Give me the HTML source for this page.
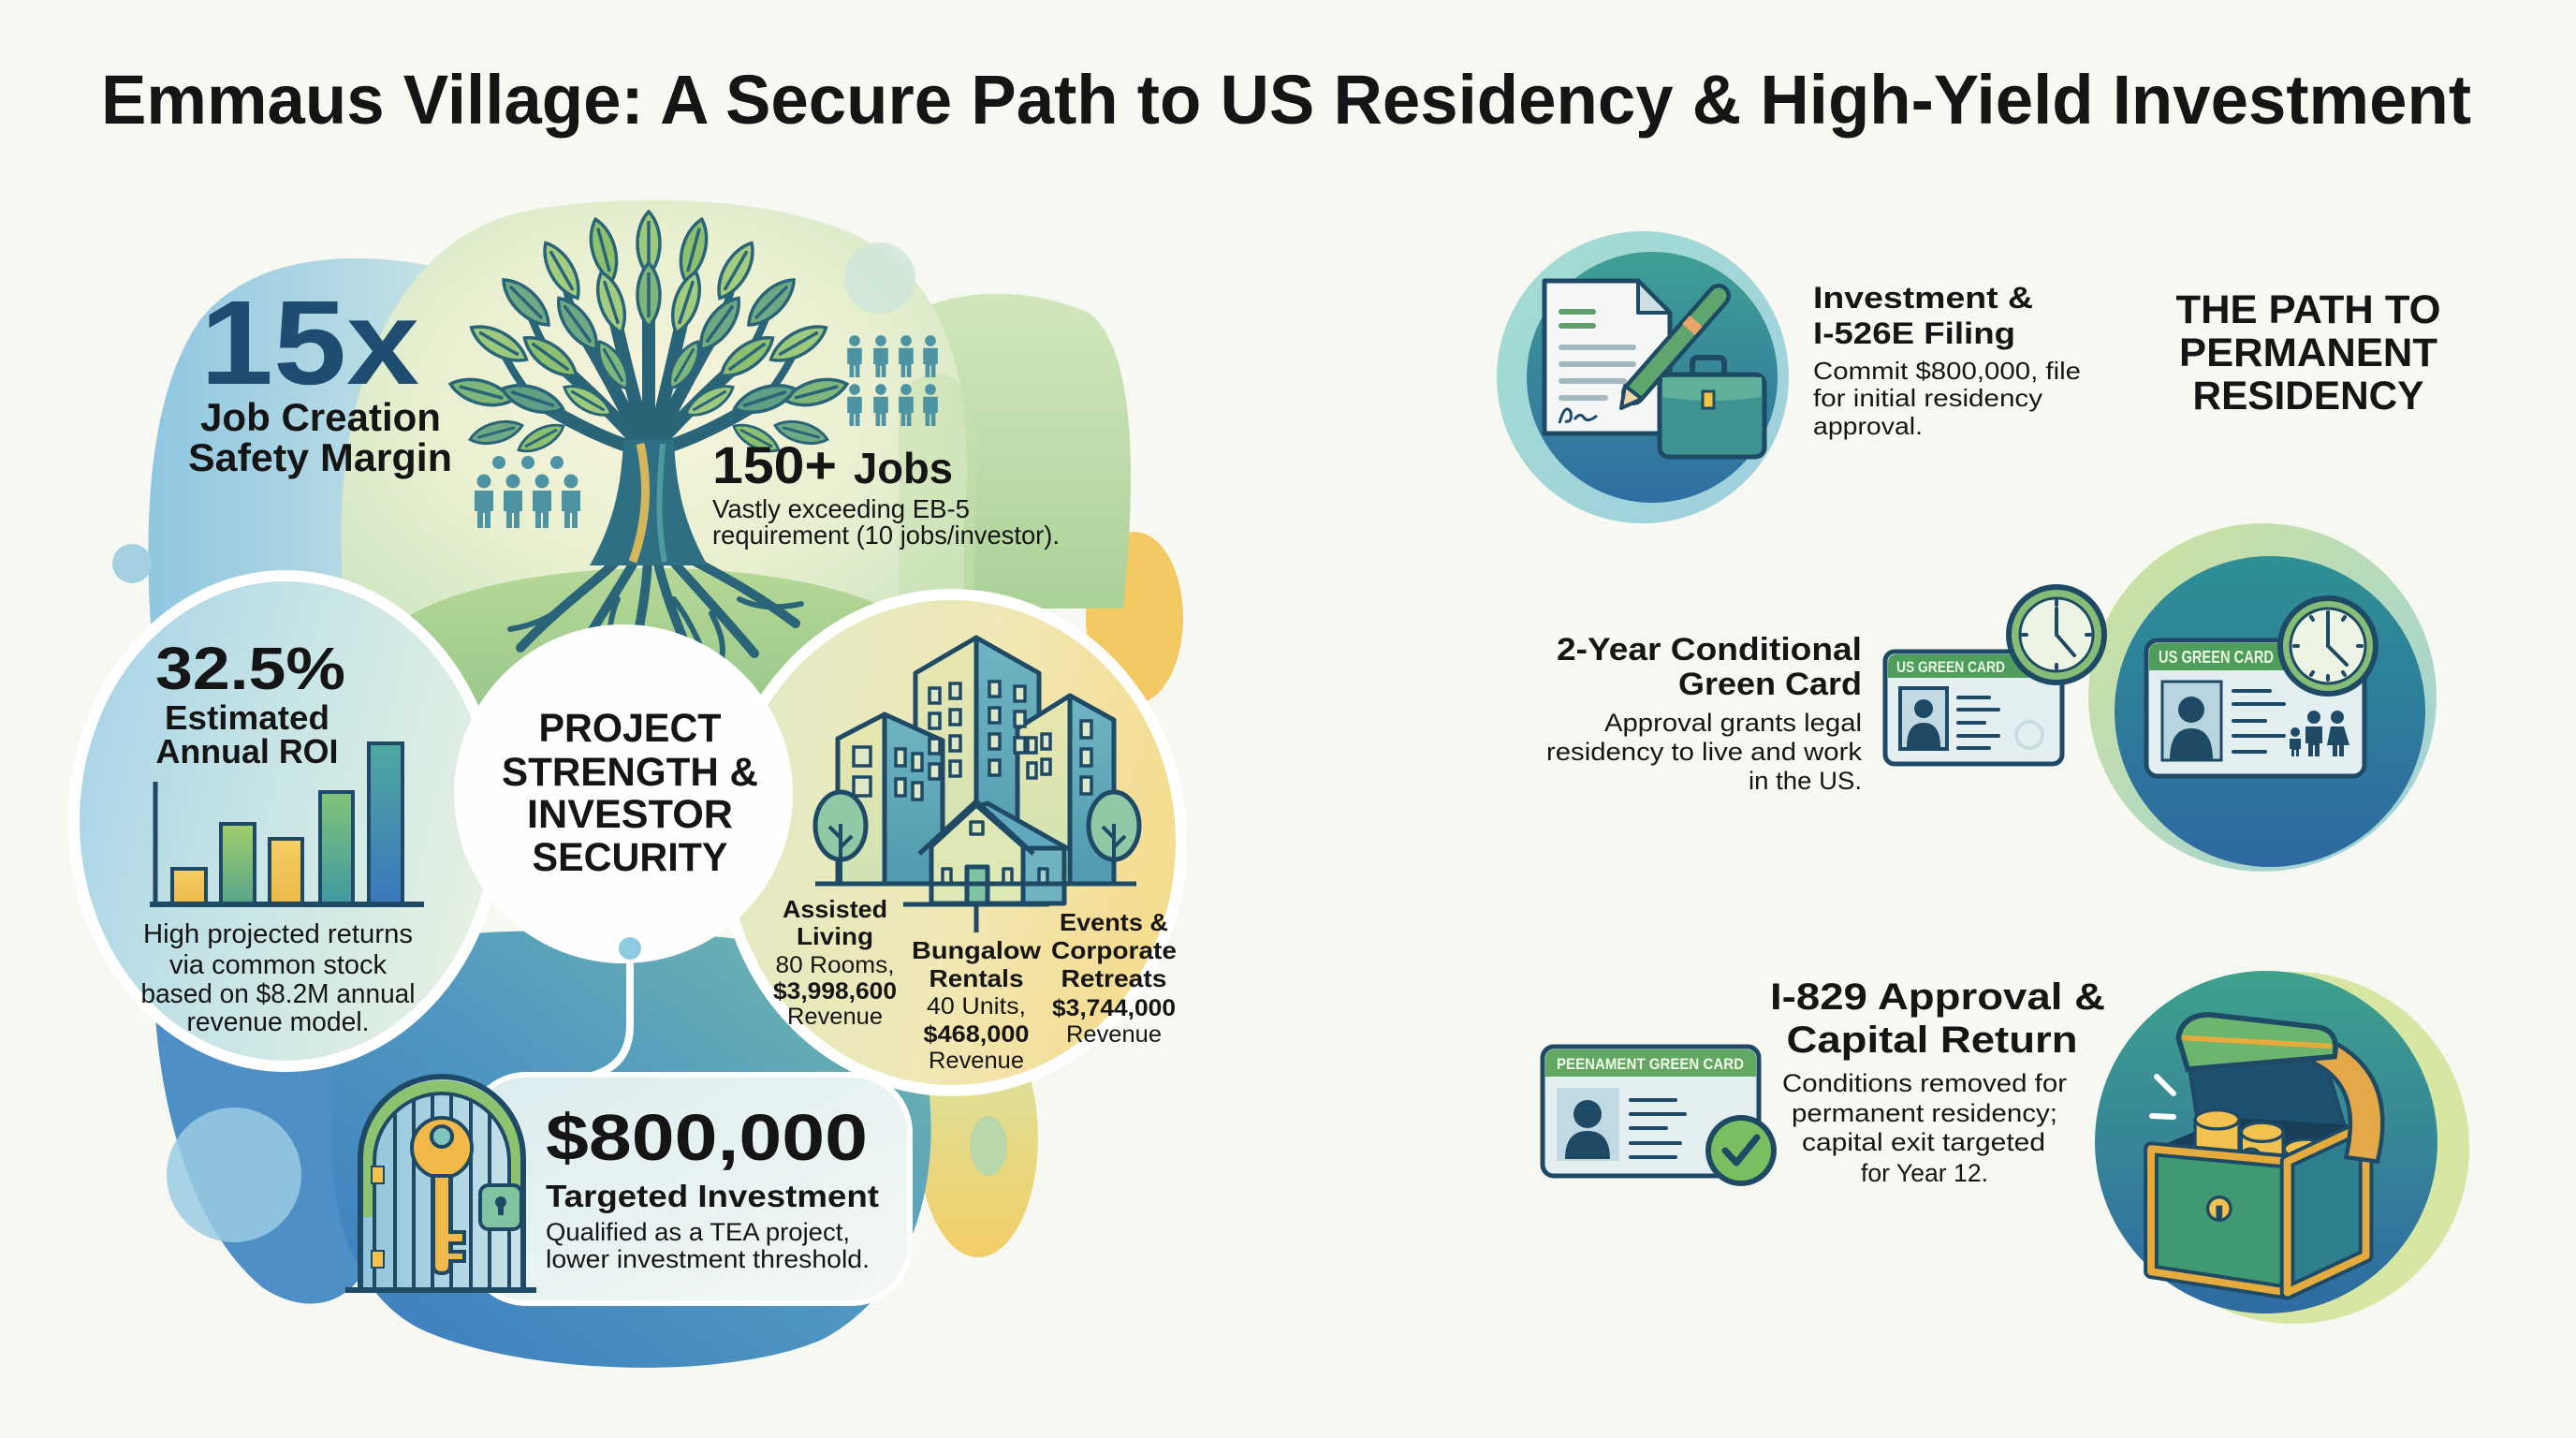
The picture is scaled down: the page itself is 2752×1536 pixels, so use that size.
<!DOCTYPE html>
<html><head><meta charset="utf-8">
<style>
html,body{margin:0;padding:0;background:#f8f8f3;}
svg{display:block}
.b{font-family:"Liberation Sans",sans-serif;font-weight:700;fill:#151515}
.r{font-family:"Liberation Sans",sans-serif;font-weight:400;fill:#151515}
</style></head><body>
<svg xmlns="http://www.w3.org/2000/svg" xmlns:xlink="http://www.w3.org/1999/xlink" width="2752" height="1536" viewBox="0 0 2752 1536">
<defs>
<linearGradient id="gBlue" x1="0" y1="0" x2="1" y2="0"><stop offset="0" stop-color="#8fc6e1"/><stop offset="1" stop-color="#d2e9e6"/></linearGradient>
<radialGradient id="gTree" cx="0.5" cy="0.45" r="0.6"><stop offset="0" stop-color="#f6f4dc"/><stop offset="0.6" stop-color="#e9f0d1"/><stop offset="1" stop-color="#d3e7c6"/></radialGradient>
<linearGradient id="gGreen" x1="0" y1="0" x2="0" y2="1"><stop offset="0" stop-color="#d2e6bd"/><stop offset="1" stop-color="#abd197"/></linearGradient>
<linearGradient id="gLeft" x1="0" y1="0.2" x2="1" y2="0.5"><stop offset="0" stop-color="#a6d3e7"/><stop offset="0.5" stop-color="#c9e5e6"/><stop offset="1" stop-color="#e4f0e2"/></linearGradient>
<linearGradient id="gRight" x1="0" y1="0" x2="1" y2="0.2"><stop offset="0" stop-color="#e0eac8"/><stop offset="0.6" stop-color="#f0e8b5"/><stop offset="1" stop-color="#f5dd92"/></linearGradient>
<linearGradient id="gBottom" x1="0" y1="1" x2="1" y2="0"><stop offset="0" stop-color="#3a7dbf"/><stop offset="0.5" stop-color="#4f97c1"/><stop offset="1" stop-color="#74bcab"/></linearGradient>
<linearGradient id="gCard" x1="0" y1="0" x2="1" y2="1"><stop offset="0" stop-color="#dcecef"/><stop offset="1" stop-color="#f4f8f5"/></linearGradient>
<linearGradient id="gHill" x1="0" y1="0" x2="0" y2="1"><stop offset="0" stop-color="#b5d796"/><stop offset="1" stop-color="#93c488"/></linearGradient>
<linearGradient id="gYelLow" x1="0" y1="0" x2="0" y2="1"><stop offset="0" stop-color="#d8e6a8"/><stop offset="1" stop-color="#f2cd66"/></linearGradient>
<linearGradient id="gC1o" x1="0" y1="0" x2="1" y2="1"><stop offset="0" stop-color="#a4dcd0"/><stop offset="1" stop-color="#9fd0e0"/></linearGradient>
<linearGradient id="gC1" x1="0" y1="0" x2="0" y2="1"><stop offset="0" stop-color="#3f9f94"/><stop offset="1" stop-color="#2f6ea3"/></linearGradient>
<linearGradient id="gC2o" x1="0" y1="0" x2="1" y2="1"><stop offset="0" stop-color="#d2e49a"/><stop offset="1" stop-color="#9ad0df"/></linearGradient>
<linearGradient id="gC2" x1="0" y1="0" x2="0" y2="1"><stop offset="0" stop-color="#2f9096"/><stop offset="1" stop-color="#2d69a1"/></linearGradient>
<linearGradient id="gC3" x1="0" y1="0" x2="0" y2="1"><stop offset="0" stop-color="#3fa18c"/><stop offset="1" stop-color="#2d6aa3"/></linearGradient>
<linearGradient id="gBar2" x1="0" y1="0" x2="0" y2="1"><stop offset="0" stop-color="#a3cf6c"/><stop offset="1" stop-color="#58a48b"/></linearGradient>
<linearGradient id="gBar4" x1="0" y1="0" x2="0" y2="1"><stop offset="0" stop-color="#82c477"/><stop offset="1" stop-color="#3e99a2"/></linearGradient>
<linearGradient id="gBar5" x1="0" y1="0" x2="0" y2="1"><stop offset="0" stop-color="#4fa9a0"/><stop offset="1" stop-color="#3a76bd"/></linearGradient>
<linearGradient id="gBarY" x1="0" y1="0" x2="0" y2="1"><stop offset="0" stop-color="#f5cf63"/><stop offset="1" stop-color="#ebb84a"/></linearGradient>
<linearGradient id="gBldL" x1="0" y1="0" x2="0" y2="1"><stop offset="0" stop-color="#e9e6b0"/><stop offset="1" stop-color="#cfe3b2"/></linearGradient>
<linearGradient id="gBldR" x1="0" y1="0" x2="0" y2="1"><stop offset="0" stop-color="#6fb4c2"/><stop offset="1" stop-color="#4f9ab0"/></linearGradient>
<linearGradient id="gDoor" x1="0" y1="0" x2="1" y2="0"><stop offset="0" stop-color="#8fc4dd"/><stop offset="1" stop-color="#c9e3ea"/></linearGradient>
<path id="leaf" d="M0,-34 C16,-17 16,17 0,34 C-16,17 -16,-17 0,-34 Z M0,-24 V24"/>
<g id="pp"><circle cx="0" cy="0" r="7.5"/><path d="M-10,10 h20 v22 h-3 v18 h-6 v-16 h-2 v16 h-6 v-18 h-3 z"/></g>
</defs>

<rect width="2752" height="1536" fill="#f8f8f3"/>

<text class="b" x="108" y="132" font-size="74" textLength="2532" lengthAdjust="spacingAndGlyphs">Emmaus Village: A Secure Path to US Residency &amp; High-Yield Investment</text>

<!-- ============ LEFT CLUSTER ============ -->
<path d="M165,720 C150,560 158,420 215,340 C262,284 340,270 420,278 C480,284 520,300 545,330 L545,720 Z" fill="url(#gBlue)"/>
<ellipse cx="1212" cy="660" rx="52" ry="92" fill="#f2c962"/>
<path d="M960,345 C1010,305 1100,305 1165,335 C1212,375 1215,500 1200,650 L980,650 Z" fill="url(#gGreen)"/>
<path d="M365,600 C358,420 420,255 560,226 C640,210 780,206 880,238 C1000,275 1045,380 1030,560 L1030,700 L365,700 Z" fill="url(#gTree)"/>
<path d="M960,420 C1000,380 1040,400 1045,460 L1040,650 L960,650 Z" fill="#c6e0ae" opacity="0.55"/>
<circle cx="940" cy="297" r="38" fill="#cfe6d8" opacity="0.9"/>
<circle cx="141" cy="602" r="21" fill="#a3d1e2"/>
<ellipse cx="700" cy="705" rx="300" ry="98" fill="url(#gHill)"/>

<!-- tree -->
<g fill="none" stroke="#2a6478" stroke-linecap="round">
 <g stroke-width="10">
  <path d="M668,590 C640,620 600,645 556,692"/>
  <path d="M680,596 C660,630 638,664 614,704"/>
  <path d="M692,598 C690,640 682,672 676,710"/>
  <path d="M702,598 C712,640 726,672 740,708"/>
  <path d="M714,594 C744,628 774,660 806,698"/>
  <path d="M724,590 C762,610 802,630 850,666"/>
 </g>
 <g stroke-width="6">
  <path d="M600,650 C585,660 570,668 545,672"/>
  <path d="M640,660 C630,680 620,690 598,702"/>
  <path d="M760,655 C770,675 775,690 770,708"/>
  <path d="M790,640 C810,650 832,650 856,645"/>
  <path d="M660,640 C650,660 652,685 645,708"/>
  <path d="M720,640 C735,660 745,680 754,704"/>
 </g>
 <g stroke-width="14">
  <path d="M690,482 Q640,470 569,426"/>
  <path d="M690,482 Q645,430 588,381"/>
  <path d="M690,482 Q655,410 617,346"/>
  <path d="M693,482 Q670,400 653,323"/>
  <path d="M693,482 Q693,400 693,315"/>
  <path d="M696,482 Q716,400 733,323"/>
  <path d="M696,482 Q731,410 769,346"/>
  <path d="M696,482 Q741,430 798,381"/>
  <path d="M696,482 Q746,470 817,426"/>
 </g>
 <g stroke-width="8">
  <path d="M569,426 Q540,422 514,419"/><path d="M569,426 Q545,395 533,367"/>
  <path d="M588,381 Q570,350 562,323"/><path d="M617,346 Q605,315 600,289"/>
  <path d="M653,323 Q648,290 645,267"/><path d="M693,315 Q693,290 693,260"/>
  <path d="M733,323 Q738,290 741,267"/><path d="M769,346 Q781,315 786,289"/>
  <path d="M798,381 Q816,350 824,323"/><path d="M817,426 Q841,395 853,367"/>
  <path d="M817,426 Q846,422 872,419"/>
 </g>
</g>
<path d="M630,604 C655,560 664,520 666,470 L720,470 C722,520 731,560 756,604 Z" fill="#2f6f84"/>
<path d="M676,600 C690,560 694,520 684,474" stroke="#d6b65c" stroke-width="9" fill="none"/>
<path d="M710,600 C702,560 704,520 708,474" stroke="#4f9aa0" stroke-width="6" fill="none"/>
<g stroke="#2a6478" stroke-width="3.5">
 <use xlink:href="#leaf" transform="translate(514,419) rotate(-75)" fill="#7fb77a"/>
 <use xlink:href="#leaf" transform="translate(533,367) rotate(-60)" fill="#9cc97c"/>
 <use xlink:href="#leaf" transform="translate(562,323) rotate(-45)" fill="#6fa983"/>
 <use xlink:href="#leaf" transform="translate(600,289) rotate(-30)" fill="#a3cc7e"/>
 <use xlink:href="#leaf" transform="translate(645,267) rotate(-15)" fill="#8cbf6e"/>
 <use xlink:href="#leaf" transform="translate(693,260) rotate(0)" fill="#9cc97c"/>
 <use xlink:href="#leaf" transform="translate(741,267) rotate(15)" fill="#8cbf6e"/>
 <use xlink:href="#leaf" transform="translate(786,289) rotate(30)" fill="#a3cc7e"/>
 <use xlink:href="#leaf" transform="translate(824,323) rotate(45)" fill="#6fa983"/>
 <use xlink:href="#leaf" transform="translate(853,367) rotate(60)" fill="#9cc97c"/>
 <use xlink:href="#leaf" transform="translate(872,419) rotate(75)" fill="#7fb77a"/>
 <use xlink:href="#leaf" transform="translate(569,426) rotate(-72)" fill="#5e9f86"/>
 <use xlink:href="#leaf" transform="translate(588,381) rotate(-54)" fill="#8cbf6e"/>
 <use xlink:href="#leaf" transform="translate(617,346) rotate(-36)" fill="#6fa983"/>
 <use xlink:href="#leaf" transform="translate(653,323) rotate(-18)" fill="#a3cc7e"/>
 <use xlink:href="#leaf" transform="translate(693,315) rotate(0)" fill="#7fb77a"/>
 <use xlink:href="#leaf" transform="translate(733,323) rotate(18)" fill="#a3cc7e"/>
 <use xlink:href="#leaf" transform="translate(769,346) rotate(36)" fill="#6fa983"/>
 <use xlink:href="#leaf" transform="translate(798,381) rotate(54)" fill="#8cbf6e"/>
 <use xlink:href="#leaf" transform="translate(817,426) rotate(72)" fill="#5e9f86"/>
 <use xlink:href="#leaf" transform="translate(628,428) rotate(-60) scale(0.85)" fill="#9cc97c"/>
 <use xlink:href="#leaf" transform="translate(655,390) rotate(-30) scale(0.85)" fill="#7fb77a"/>
 <use xlink:href="#leaf" transform="translate(731,390) rotate(30) scale(0.85)" fill="#7fb77a"/>
 <use xlink:href="#leaf" transform="translate(758,428) rotate(60) scale(0.85)" fill="#9cc97c"/>
 <use xlink:href="#leaf" transform="translate(530,462) rotate(-105) scale(0.85)" fill="#6fa983"/>
 <use xlink:href="#leaf" transform="translate(856,462) rotate(105) scale(0.85)" fill="#6fa983"/>
 <use xlink:href="#leaf" transform="translate(578,468) rotate(-118) scale(0.8)" fill="#8cbf6e"/>
 <use xlink:href="#leaf" transform="translate(808,468) rotate(118) scale(0.8)" fill="#8cbf6e"/>
</g>

<g fill="#4e93a3">
 <circle cx="533" cy="494" r="7"/><circle cx="564" cy="494" r="7"/><circle cx="595" cy="494" r="7"/>
 <use xlink:href="#pp" x="517" y="514"/><use xlink:href="#pp" x="548" y="514"/><use xlink:href="#pp" x="579" y="514"/><use xlink:href="#pp" x="610" y="514"/>
 <use xlink:href="#pp" transform="translate(913,364) scale(0.78)"/><use xlink:href="#pp" transform="translate(941,364) scale(0.78)"/><use xlink:href="#pp" transform="translate(968,364) scale(0.78)"/><use xlink:href="#pp" transform="translate(994,364) scale(0.78)"/>
 <use xlink:href="#pp" transform="translate(913,416) scale(0.78)"/><use xlink:href="#pp" transform="translate(941,416) scale(0.78)"/><use xlink:href="#pp" transform="translate(968,416) scale(0.78)"/><use xlink:href="#pp" transform="translate(994,416) scale(0.78)"/>
</g>

<text class="b" x="214" y="410" font-size="128" textLength="234" lengthAdjust="spacingAndGlyphs" style="fill:#1f4d72">15x</text>
<text class="b" x="214" y="460" font-size="42" textLength="257" lengthAdjust="spacingAndGlyphs">Job Creation</text>
<text class="b" x="201" y="503" font-size="42" textLength="282" lengthAdjust="spacingAndGlyphs">Safety Margin</text>
<text class="b" x="761" y="516" font-size="56" textLength="133" lengthAdjust="spacingAndGlyphs">150+</text>
<text class="b" x="912" y="516" font-size="46" textLength="106" lengthAdjust="spacingAndGlyphs">Jobs</text>
<text class="r" x="761" y="553" font-size="28" textLength="275" lengthAdjust="spacingAndGlyphs">Vastly exceeding EB-5</text>
<text class="r" x="761" y="581" font-size="28" textLength="371" lengthAdjust="spacingAndGlyphs">requirement (10 jobs/investor).</text>

<!-- bottom blobs -->
<path d="M165,1000 C158,1130 190,1300 280,1375 C340,1415 400,1385 405,1300 L405,1040 Z" fill="#4d8fc6"/>
<circle cx="250" cy="1255" r="72" fill="#9acbe2" opacity="0.85"/>
<ellipse cx="1045" cy="1215" rx="64" ry="128" fill="url(#gYelLow)"/>
<ellipse cx="1056" cy="1224" rx="20" ry="32" fill="#b9d7a8"/>
<path d="M360,1060 C380,1000 520,985 673,1000 C820,990 950,1030 985,1120 C1010,1230 990,1370 880,1430 C780,1475 560,1470 450,1420 C380,1385 350,1300 355,1200 Z" fill="url(#gBottom)"/>

<ellipse cx="305" cy="877" rx="226" ry="262" fill="url(#gLeft)" stroke="#ffffff" stroke-width="12"/>
<ellipse cx="1017" cy="900" rx="245" ry="265" fill="url(#gRight)" stroke="#ffffff" stroke-width="12"/>
<circle cx="666" cy="848" r="176" fill="#fefefc" stroke="#ffffff" stroke-width="10"/>

<text class="b" x="166" y="736" font-size="64" textLength="203" lengthAdjust="spacingAndGlyphs">32.5%</text>
<text class="b" x="264" y="779" font-size="36" text-anchor="middle" textLength="176" lengthAdjust="spacingAndGlyphs">Estimated</text>
<text class="b" x="264" y="815" font-size="36" text-anchor="middle" textLength="195" lengthAdjust="spacingAndGlyphs">Annual ROI</text>
<g stroke="#1f4a66" stroke-width="4">
 <rect x="184" y="928" width="36" height="38" fill="url(#gBarY)"/>
 <rect x="236" y="880" width="36" height="86" fill="url(#gBar2)"/>
 <rect x="288" y="896" width="35" height="70" fill="url(#gBarY)"/>
 <rect x="342" y="846" width="35" height="120" fill="url(#gBar4)"/>
 <rect x="394" y="794" width="36" height="172" fill="url(#gBar5)"/>
</g>
<line x1="166" y1="835" x2="166" y2="966" stroke="#1f4a66" stroke-width="5"/>
<line x1="160" y1="966" x2="453" y2="966" stroke="#1f4a66" stroke-width="6"/>
<text class="r" x="297" y="1007" font-size="29" text-anchor="middle" textLength="288" lengthAdjust="spacingAndGlyphs">High projected returns</text>
<text class="r" x="297" y="1040" font-size="29" text-anchor="middle" textLength="232" lengthAdjust="spacingAndGlyphs">via common stock</text>
<text class="r" x="297" y="1071" font-size="29" text-anchor="middle" textLength="293" lengthAdjust="spacingAndGlyphs">based on $8.2M annual</text>
<text class="r" x="297" y="1101" font-size="29" text-anchor="middle" textLength="195" lengthAdjust="spacingAndGlyphs">revenue model.</text>

<text class="b" x="673" y="792" font-size="43" text-anchor="middle" textLength="195" lengthAdjust="spacingAndGlyphs">PROJECT</text>
<text class="b" x="673" y="839" font-size="43" text-anchor="middle" textLength="274" lengthAdjust="spacingAndGlyphs">STRENGTH &amp;</text>
<text class="b" x="673" y="884" font-size="43" text-anchor="middle" textLength="220" lengthAdjust="spacingAndGlyphs">INVESTOR</text>
<text class="b" x="673" y="930" font-size="43" text-anchor="middle" textLength="209" lengthAdjust="spacingAndGlyphs">SECURITY</text>

<!-- buildings -->
<g stroke="#1f4a66" stroke-width="5" stroke-linejoin="round">
 <polygon points="978,719 1043,681 1043,944 978,944" fill="url(#gBldL)"/>
 <polygon points="1043,681 1110,719 1110,944 1043,944" fill="url(#gBldR)"/>
 <polygon points="895,789 945,763 945,944 895,944" fill="url(#gBldL)"/>
 <polygon points="945,763 1007,791 1007,944 945,944" fill="url(#gBldR)"/>
 <polygon points="1087,778 1143,743 1143,944 1087,944" fill="url(#gBldL)"/>
 <polygon points="1143,743 1190,769 1190,944 1143,944" fill="url(#gBldR)"/>
</g>
<g fill="#dfe9c8" stroke="#1f4a66" stroke-width="3.5">
 <rect x="993" y="735" width="11" height="16"/><rect x="1015" y="730" width="11" height="16"/>
 <rect x="993" y="762" width="11" height="16"/><rect x="1015" y="758" width="11" height="16"/>
 <rect x="993" y="789" width="11" height="16"/><rect x="1015" y="786" width="11" height="16"/>
 <rect x="993" y="816" width="11" height="16"/><rect x="1015" y="813" width="11" height="16"/>
 <rect x="1057" y="728" width="11" height="16"/><rect x="1084" y="733" width="11" height="16"/>
 <rect x="1057" y="756" width="11" height="16"/><rect x="1084" y="760" width="11" height="16"/>
 <rect x="1057" y="784" width="11" height="16"/><rect x="1084" y="788" width="11" height="16"/>
 <rect x="1057" y="812" width="11" height="16"/>
 <rect x="912" y="798" width="18" height="20"/><rect x="912" y="830" width="18" height="20"/>
 <rect x="957" y="800" width="10" height="18"/><rect x="975" y="805" width="10" height="18"/>
 <rect x="957" y="832" width="10" height="18"/><rect x="975" y="836" width="10" height="18"/>
 <rect x="1098" y="788" width="9" height="16"/><rect x="1113" y="784" width="9" height="16"/>
 <rect x="1098" y="815" width="9" height="16"/><rect x="1113" y="811" width="9" height="16"/>
 <rect x="1155" y="770" width="11" height="18"/><rect x="1155" y="800" width="11" height="18"/><rect x="1155" y="830" width="11" height="18"/>
</g>
<g stroke="#1f4a66" stroke-width="5" stroke-linejoin="round">
 <polygon points="1093,904 1137,904 1137,965 1093,965" fill="#6fb3c0"/>
 <polygon points="1055,858 1140,906 1093,906 1043,862" fill="#5fa8bf"/>
 <polygon points="995,904 1043,860 1093,904 1093,965 995,965" fill="#dde8b4"/>
 <polyline points="982,912 1043,856 1104,912" fill="none"/>
 <rect x="1033" y="926" width="22" height="39" fill="#7fc3a0"/>
 <rect x="1037" y="878" width="13" height="13" fill="#dde8b4" stroke-width="3.5"/>
 <rect x="1007" y="928" width="9" height="16" fill="#dde8b4" stroke-width="3.5"/>
 <rect x="1072" y="928" width="9" height="16" fill="#dde8b4" stroke-width="3.5"/>
 <rect x="1110" y="928" width="9" height="16" fill="#9fd0cf" stroke-width="3.5"/>
 <ellipse cx="898" cy="882" rx="27" ry="36" fill="#8fc8a4"/>
 <ellipse cx="1190" cy="882" rx="27" ry="36" fill="#8fc8a4"/>
 <path d="M898,880 V944 M898,895 L886,883 M898,905 L910,893 M1190,880 V944 M1190,895 L1178,883 M1190,905 L1202,893" fill="none" stroke-width="4"/>
 <line x1="871" y1="944" x2="1214" y2="944"/>
 <line x1="965" y1="966" x2="1121" y2="966"/>
 <line x1="1043" y1="966" x2="1043" y2="996"/>
</g>
<text class="b" x="892" y="980" font-size="26" text-anchor="middle" textLength="112" lengthAdjust="spacingAndGlyphs">Assisted</text>
<text class="b" x="892" y="1009" font-size="26" text-anchor="middle" textLength="82" lengthAdjust="spacingAndGlyphs">Living</text>
<text class="r" x="892" y="1039" font-size="25" text-anchor="middle" textLength="127" lengthAdjust="spacingAndGlyphs">80 Rooms,</text>
<text class="b" x="892" y="1067" font-size="25" text-anchor="middle" textLength="132" lengthAdjust="spacingAndGlyphs">$3,998,600</text>
<text class="r" x="892" y="1094" font-size="25" text-anchor="middle" textLength="102" lengthAdjust="spacingAndGlyphs">Revenue</text>
<text class="b" x="1043" y="1024" font-size="26" text-anchor="middle" textLength="138" lengthAdjust="spacingAndGlyphs">Bungalow</text>
<text class="b" x="1043" y="1054" font-size="26" text-anchor="middle" textLength="101" lengthAdjust="spacingAndGlyphs">Rentals</text>
<text class="r" x="1043" y="1083" font-size="25" text-anchor="middle" textLength="106" lengthAdjust="spacingAndGlyphs">40 Units,</text>
<text class="b" x="1043" y="1113" font-size="25" text-anchor="middle" textLength="113" lengthAdjust="spacingAndGlyphs">$468,000</text>
<text class="r" x="1043" y="1141" font-size="25" text-anchor="middle" textLength="102" lengthAdjust="spacingAndGlyphs">Revenue</text>
<text class="b" x="1190" y="994" font-size="26" text-anchor="middle" textLength="116" lengthAdjust="spacingAndGlyphs">Events &amp;</text>
<text class="b" x="1190" y="1024" font-size="26" text-anchor="middle" textLength="134" lengthAdjust="spacingAndGlyphs">Corporate</text>
<text class="b" x="1190" y="1054" font-size="26" text-anchor="middle" textLength="113" lengthAdjust="spacingAndGlyphs">Retreats</text>
<text class="b" x="1190" y="1085" font-size="25" text-anchor="middle" textLength="132" lengthAdjust="spacingAndGlyphs">$3,744,000</text>
<text class="r" x="1190" y="1113" font-size="25" text-anchor="middle" textLength="102" lengthAdjust="spacingAndGlyphs">Revenue</text>

<path d="M673,1022 V1095 Q673,1140 628,1150" fill="none" stroke="#ffffff" stroke-width="8"/>
<circle cx="673" cy="1013" r="12" fill="#8ccbe0"/>

<rect x="500" y="1148" width="472" height="244" rx="62" fill="url(#gCard)" stroke="#ffffff" stroke-width="6"/>

<path d="M385,1376 V1237 A87,87 0 0 1 559,1237 V1376 Z" fill="url(#gDoor)"/>
<path d="M392,1300 V1240 A80,80 0 0 1 552,1240 V1300" fill="none" stroke="#8dc26f" stroke-width="12"/>
<path d="M385,1376 V1237 A87,87 0 0 1 559,1237 V1376" fill="none" stroke="#1f4a66" stroke-width="6"/>
<path d="M400,1376 V1240 A72,72 0 0 1 544,1240 V1376" fill="none" stroke="#1f4a66" stroke-width="4"/>
<g stroke="#1f4a66" stroke-width="4">
 <line x1="422" y1="1190" x2="422" y2="1376"/><line x1="442" y1="1175" x2="442" y2="1376"/>
 <line x1="462" y1="1170" x2="462" y2="1376"/><line x1="482" y1="1170" x2="482" y2="1376"/>
 <line x1="503" y1="1175" x2="503" y2="1376"/><line x1="523" y1="1190" x2="523" y2="1376"/>
</g>
<g stroke="#1f4a66" stroke-width="4">
 <circle cx="472" cy="1226" r="32" fill="#f3b84a"/>
 <circle cx="472" cy="1214" r="11" fill="#7fc6c0"/>
 <path d="M463,1256 V1352 Q463,1360 472,1360 Q481,1360 481,1352 V1347 H496 V1337 H481 V1328 H496 V1316 H481 V1256 Z" fill="#f3b84a"/>
 <rect x="513" y="1266" width="44" height="47" rx="9" fill="#7fc3a0"/>
 <rect x="397" y="1246" width="13" height="18" fill="#f2c14e" stroke-width="2"/>
 <rect x="397" y="1336" width="13" height="18" fill="#f2c14e" stroke-width="2"/>
</g>
<circle cx="535" cy="1284" r="6" fill="#1f4a66"/><rect x="532" y="1286" width="6" height="12" fill="#1f4a66"/>
<line x1="369" y1="1378" x2="573" y2="1378" stroke="#1f4a66" stroke-width="6"/>

<text class="b" x="583" y="1239" font-size="70" textLength="344" lengthAdjust="spacingAndGlyphs">$800,000</text>
<text class="b" x="583" y="1289" font-size="33" textLength="356" lengthAdjust="spacingAndGlyphs">Targeted Investment</text>
<text class="r" x="583" y="1325" font-size="27" textLength="325" lengthAdjust="spacingAndGlyphs">Qualified as a TEA project,</text>
<text class="r" x="583" y="1354" font-size="27" textLength="346" lengthAdjust="spacingAndGlyphs">lower investment threshold.</text>

<!-- ============ RIGHT SIDE ============ -->
<circle cx="1755" cy="403" r="156" fill="url(#gC1o)"/>
<circle cx="1765" cy="403" r="134" fill="url(#gC1)"/>
<path d="M1650,300 H1750 L1784,334 V463 H1650 Z" fill="#f4f7f6" stroke="#1f4a66" stroke-width="5" stroke-linejoin="round"/>
<path d="M1750,300 V334 H1784 Z" fill="#cddfe2" stroke="#1f4a66" stroke-width="4" stroke-linejoin="round"/>
<g stroke-linecap="round" stroke-width="6">
 <line x1="1668" y1="333" x2="1702" y2="333" stroke="#5e9e6a"/>
 <line x1="1668" y1="348" x2="1702" y2="348" stroke="#5e9e6a"/>
 <line x1="1668" y1="371" x2="1745" y2="371" stroke="#a4b8c0"/>
 <line x1="1668" y1="389" x2="1745" y2="389" stroke="#a4b8c0"/>
 <line x1="1668" y1="407" x2="1735" y2="407" stroke="#a4b8c0"/>
 <line x1="1668" y1="425" x2="1715" y2="425" stroke="#a4b8c0"/>
</g>
<path d="M1666,452 Q1672,430 1678,440 Q1680,452 1672,450 M1682,448 Q1688,440 1692,446 Q1696,452 1706,444" fill="none" stroke="#1f4a66" stroke-width="3"/>
<line x1="1836" y1="316" x2="1745" y2="420" stroke="#1f4a66" stroke-width="26" stroke-linecap="round"/>
<line x1="1836" y1="316" x2="1745" y2="420" stroke="#5fa56e" stroke-width="17" stroke-linecap="round"/>
<line x1="1812" y1="343" x2="1804" y2="352" stroke="#e9a46a" stroke-width="18"/>
<polygon points="1736,412 1754,426 1732,436" fill="#f0d7a8" stroke="#1f4a66" stroke-width="4" stroke-linejoin="round"/>
<path d="M1808,402 V388 Q1808,382 1814,382 H1836 Q1842,382 1842,388 V402" fill="none" stroke="#1f4a66" stroke-width="6"/>
<rect x="1773" y="400" width="112" height="88" rx="10" fill="#3e9491" stroke="#1f4a66" stroke-width="5"/>
<path d="M1776,403 H1882 V424 Q1829,432 1776,424 Z" fill="#5fb09a"/>
<rect x="1819" y="418" width="12" height="18" fill="#f1c443" stroke="#1f4a66" stroke-width="3"/>

<text class="b" x="1937" y="329" font-size="32" textLength="235" lengthAdjust="spacingAndGlyphs">Investment &amp;</text>
<text class="b" x="1937" y="367" font-size="32" textLength="216" lengthAdjust="spacingAndGlyphs">I-526E Filing</text>
<text class="r" x="1937" y="405" font-size="26" textLength="286" lengthAdjust="spacingAndGlyphs">Commit $800,000, file</text>
<text class="r" x="1937" y="434" font-size="26" textLength="245" lengthAdjust="spacingAndGlyphs">for initial residency</text>
<text class="r" x="1937" y="464" font-size="26" textLength="117" lengthAdjust="spacingAndGlyphs">approval.</text>

<text class="b" x="2466" y="345" font-size="43" text-anchor="middle" textLength="283" lengthAdjust="spacingAndGlyphs">THE PATH TO</text>
<text class="b" x="2466" y="391" font-size="43" text-anchor="middle" textLength="276" lengthAdjust="spacingAndGlyphs">PERMANENT</text>
<text class="b" x="2466" y="437" font-size="43" text-anchor="middle" textLength="247" lengthAdjust="spacingAndGlyphs">RESIDENCY</text>

<circle cx="2417" cy="745" r="186" fill="url(#gC2o)"/>
<circle cx="2425" cy="760" r="166" fill="url(#gC2)"/>

<rect x="2014" y="696" width="189" height="120" rx="10" fill="#e4eff1" stroke="#1f4a66" stroke-width="5"/>
<path d="M2017,724 V708 Q2017,699 2026,699 H2191 Q2200,699 2200,708 V724 Z" fill="#4f9d5c"/>
<text class="b" x="2026" y="718" font-size="17" textLength="116" lengthAdjust="spacingAndGlyphs" style="fill:#eaf6e2">US GREEN CARD</text>
<rect x="2030" y="735" width="50" height="65" fill="#c2dbe3" stroke="#1f4a66" stroke-width="4"/>
<circle cx="2055" cy="757" r="10" fill="#1f4a66"/>
<path d="M2037,798 Q2037,772 2055,772 Q2073,772 2073,798 Z" fill="#1f4a66"/>
<g stroke="#1f4a66" stroke-width="4" stroke-linecap="round">
 <line x1="2092" y1="745" x2="2125" y2="745"/><line x1="2092" y1="758" x2="2135" y2="758"/>
 <line x1="2092" y1="772" x2="2120" y2="772"/><line x1="2092" y1="786" x2="2135" y2="786"/>
 <line x1="2092" y1="799" x2="2125" y2="799"/>
</g>
<circle cx="2168" cy="785" r="14" fill="none" stroke="#c8dde0" stroke-width="4"/>
<circle cx="2197" cy="678" r="54" fill="#1f4a66"/>
<circle cx="2197" cy="678" r="48" fill="#86bd76"/>
<circle cx="2197" cy="678" r="39" fill="#eef4e4" stroke="#1f4a66" stroke-width="3"/>
<g stroke="#1f4a66" stroke-width="4" stroke-linecap="round">
 <line x1="2197" y1="678" x2="2197" y2="650"/><line x1="2197" y1="678" x2="2216" y2="700"/>
 <line x1="2197" y1="642" x2="2197" y2="646"/><line x1="2197" y1="710" x2="2197" y2="714"/>
 <line x1="2161" y1="678" x2="2165" y2="678"/><line x1="2229" y1="678" x2="2233" y2="678"/>
</g>

<rect x="2293" y="684" width="233" height="145" rx="12" fill="#e2eef0" stroke="#1f4a66" stroke-width="5"/>
<path d="M2296,716 V697 Q2296,687 2306,687 H2513 Q2523,687 2523,697 V716 Z" fill="#4f9d5c"/>
<text class="b" x="2306" y="708" font-size="18" textLength="123" lengthAdjust="spacingAndGlyphs" style="fill:#eaf6e2">US GREEN CARD</text>
<rect x="2310" y="728" width="63" height="84" fill="#b8d5df" stroke="#1f4a66" stroke-width="3"/>
<circle cx="2341" cy="758" r="14" fill="#1f4a66"/>
<path d="M2318,812 Q2318,778 2341,778 Q2364,778 2364,812 Z" fill="#1f4a66"/>
<g stroke="#1f4a66" stroke-width="4" stroke-linecap="round">
 <line x1="2386" y1="738" x2="2425" y2="738"/><line x1="2386" y1="752" x2="2440" y2="752"/>
 <line x1="2386" y1="770" x2="2420" y2="770"/><line x1="2386" y1="786" x2="2440" y2="786"/>
 <line x1="2386" y1="803" x2="2420" y2="803"/>
</g>
<g fill="#1f4a66">
 <circle cx="2472" cy="766" r="7"/><path d="M2463,776 h18 v18 h-3 v14 h-5 v-12 h-2 v12 h-5 v-14 h-3 z"/>
 <circle cx="2497" cy="766" r="7"/><path d="M2490,776 h14 l6,20 h-6 v12 h-5 v-12 h-2 v12 h-5 v-12 h-6 z"/>
 <circle cx="2452" cy="782" r="5"/><path d="M2446,789 h12 v11 h-2 v8 h-3 v-7 h-2 v7 h-3 v-8 h-2 z"/>
</g>
<circle cx="2487" cy="690" r="54" fill="#1f4a66"/>
<circle cx="2487" cy="690" r="48" fill="#86bd76"/>
<circle cx="2487" cy="690" r="40" fill="#eef4e4" stroke="#1f4a66" stroke-width="3"/>
<g stroke="#1f4a66" stroke-width="4" stroke-linecap="round">
 <line x1="2487" y1="690" x2="2487" y2="660"/><line x1="2487" y1="690" x2="2507" y2="710"/>
 <line x1="2487" y1="654" x2="2487" y2="658"/><line x1="2487" y1="722" x2="2487" y2="726"/>
 <line x1="2451" y1="690" x2="2455" y2="690"/><line x1="2519" y1="690" x2="2523" y2="690"/>
 <line x1="2505" y1="659" x2="2503" y2="662"/><line x1="2469" y1="659" x2="2471" y2="662"/>
 <line x1="2505" y1="721" x2="2503" y2="718"/><line x1="2469" y1="721" x2="2471" y2="718"/>
</g>

<text class="b" x="1989" y="705" font-size="34" text-anchor="end" textLength="326" lengthAdjust="spacingAndGlyphs">2-Year Conditional</text>
<text class="b" x="1989" y="742" font-size="34" text-anchor="end" textLength="196" lengthAdjust="spacingAndGlyphs">Green Card</text>
<text class="r" x="1989" y="781" font-size="27" text-anchor="end" textLength="275" lengthAdjust="spacingAndGlyphs">Approval grants legal</text>
<text class="r" x="1989" y="812" font-size="27" text-anchor="end" textLength="337" lengthAdjust="spacingAndGlyphs">residency to live and work</text>
<text class="r" x="1989" y="843" font-size="27" text-anchor="end" textLength="121" lengthAdjust="spacingAndGlyphs">in the US.</text>

<circle cx="2450" cy="1226" r="188" fill="#d7e6a2"/>
<circle cx="2421" cy="1220" r="183" fill="url(#gC3)"/>
<g transform="translate(2410,1235) scale(1.12) translate(-2410,-1235)">
<polygon points="2345,1140 2470,1125 2500,1225 2360,1235" fill="#1e5070" stroke="#1f4a66" stroke-width="4"/>
<polygon points="2312,1228 2385,1198 2515,1206 2440,1240" fill="#173f5a"/>
<g stroke="#1f4a66" stroke-width="3" fill="#f2c14e">
 <rect x="2352" y="1200" width="42" height="36"/><ellipse cx="2373" cy="1200" rx="21" ry="9"/>
 <rect x="2396" y="1212" width="40" height="34"/><ellipse cx="2416" cy="1212" rx="20" ry="9"/>
 <rect x="2437" y="1228" width="40" height="28"/><ellipse cx="2457" cy="1228" rx="20" ry="9"/>
 <ellipse cx="2405" cy="1250" rx="15" ry="22"/>
</g>
<g stroke-linejoin="round">
 <polygon points="2310,1228 2440,1240 2440,1365 2310,1345" fill="#3f9a72" stroke="#1f4a66" stroke-width="14"/>
 <polygon points="2310,1228 2440,1240 2440,1365 2310,1345" fill="none" stroke="#e5ab3c" stroke-width="7"/>
 <polygon points="2440,1240 2515,1205 2515,1330 2440,1365" fill="#2e7f90" stroke="#1f4a66" stroke-width="14"/>
 <polygon points="2440,1240 2515,1205 2515,1330 2440,1365" fill="none" stroke="#e5ab3c" stroke-width="7"/>
</g>
<circle cx="2375" cy="1285" r="11" fill="#f2c14e" stroke="#1f4a66" stroke-width="3"/>
<rect x="2372" y="1282" width="6" height="14" fill="#1f4a66"/>
<path d="M2470,1120 Q2548,1150 2526,1240 L2496,1236 Q2512,1168 2465,1146 Z" fill="#e4a848" stroke="#1f4a66" stroke-width="4"/>
<path d="M2336,1122 Q2340,1100 2366,1100 L2470,1112 Q2490,1116 2485,1140 L2345,1152 Z" fill="#6cb56f" stroke="#1f4a66" stroke-width="5"/>
<path d="M2340,1122 L2482,1130" stroke="#e5ab3c" stroke-width="5" fill="none"/>
</g>
<g stroke="#ffffff" stroke-width="6" stroke-linecap="round">
 <line x1="2304" y1="1150" x2="2322" y2="1168"/><line x1="2299" y1="1192" x2="2322" y2="1193"/>
</g>

<rect x="1648" y="1118" width="231" height="138" rx="12" fill="#e4eff1" stroke="#1f4a66" stroke-width="5"/>
<path d="M1651,1150 V1131 Q1651,1121 1661,1121 H1866 Q1876,1121 1876,1131 V1150 Z" fill="#62a863"/>
<text class="b" x="1663" y="1142" font-size="17" textLength="200" lengthAdjust="spacingAndGlyphs" style="fill:#f0f8ea">PEENAMENT GREEN CARD</text>
<rect x="1663" y="1162" width="67" height="78" fill="#c0d9e2"/>
<circle cx="1696" cy="1190" r="15" fill="#1f4a66"/>
<path d="M1672,1238 Q1672,1208 1696,1208 Q1720,1208 1720,1238 Z" fill="#1f4a66"/>
<g stroke="#1f4a66" stroke-width="4" stroke-linecap="round">
 <line x1="1742" y1="1175" x2="1790" y2="1175"/><line x1="1742" y1="1190" x2="1800" y2="1190"/>
 <line x1="1742" y1="1205" x2="1780" y2="1205"/><line x1="1742" y1="1221" x2="1795" y2="1221"/>
 <line x1="1742" y1="1236" x2="1790" y2="1236"/>
</g>
<circle cx="1860" cy="1229" r="38" fill="#1f4a66"/>
<circle cx="1860" cy="1229" r="32" fill="#79bf62"/>
<path d="M1843,1229 L1855,1242 L1877,1215" fill="none" stroke="#1f4a66" stroke-width="7" stroke-linecap="round" stroke-linejoin="round"/>

<text class="b" x="2070" y="1078" font-size="40" text-anchor="middle" textLength="358" lengthAdjust="spacingAndGlyphs">I-829 Approval &amp;</text>
<text class="b" x="2064" y="1124" font-size="40" text-anchor="middle" textLength="311" lengthAdjust="spacingAndGlyphs">Capital Return</text>
<text class="r" x="2056" y="1166" font-size="27" text-anchor="middle" textLength="304" lengthAdjust="spacingAndGlyphs">Conditions removed for</text>
<text class="r" x="2056" y="1198" font-size="27" text-anchor="middle" textLength="284" lengthAdjust="spacingAndGlyphs">permanent residency;</text>
<text class="r" x="2055" y="1229" font-size="27" text-anchor="middle" textLength="260" lengthAdjust="spacingAndGlyphs">capital exit targeted</text>
<text class="r" x="2056" y="1262" font-size="27" text-anchor="middle" textLength="136" lengthAdjust="spacingAndGlyphs">for Year 12.</text>
</svg>
</body></html>
